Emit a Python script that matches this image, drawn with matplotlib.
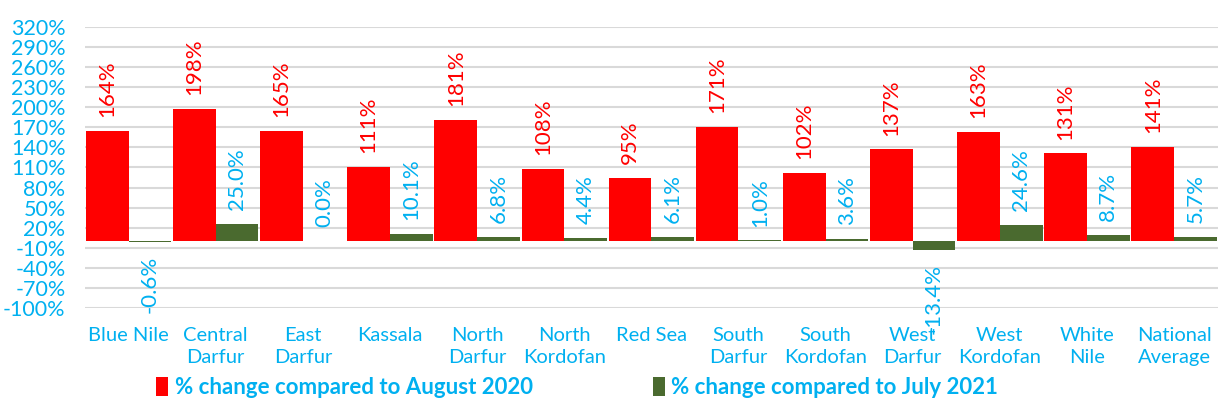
import numpy as np
import matplotlib.pyplot as plt

plt.rcParams['font.family'] = ['Lato', 'DejaVu Sans']

regions = ["Blue Nile", "Central\nDarfur", "East\nDarfur", "Kassala", "North\nDarfur",
           "North\nKordofan", "Red Sea", "South\nDarfur", "South\nKordofan", "West\nDarfur",
           "West\nKordofan", "White\nNile", "National\nAverage"]
change_aug2020 = [164, 198, 165, 111, 181, 108, 95, 171, 102, 137, 163, 131, 141]
change_jul2021 = [-0.6, 25.0, 0.0, 10.1, 6.8, 4.4, 6.1, 1.0, 3.6, -13.4, 24.6, 8.7, 5.7]
yticks = list(range(-100, 321, 30))

RED = '#FF0000'
GREEN = '#4A6A2F'
BLUE = '#00B0F0'

fig = plt.figure(figsize=(12.25, 4.12), dpi=100)
ax = fig.add_axes([0.0694, 0.2524, 0.9246, 0.6821])

x = np.arange(len(regions))
w = 0.49
b1 = ax.bar(x - w / 2, change_aug2020, w, color=RED, zorder=3,
            label='% change compared to August 2020')
b2 = ax.bar(x + w / 2, change_jul2021, w, color=GREEN, zorder=3,
            label='% change compared to July 2021')

ax.bar_label(b1, labels=[f'{v:.0f}%' for v in change_aug2020], padding=10,
             rotation=90, color=RED, fontsize=16)
ax.bar_label(b2, labels=[f'{v:.1f}%' for v in change_jul2021], padding=10,
             rotation=90, color=BLUE, fontsize=16)

ax.set_xlim(-0.5, len(regions) - 0.5)
ax.set_ylim(-100, 320)
ax.set_yticks(yticks)
ax.set_yticklabels([f'{t}%' for t in yticks], fontsize=15.5)
ax.set_xticks(x)
ax.set_xticklabels(regions, fontsize=14.5, linespacing=1.3)
ax.tick_params(axis='both', length=0, colors=BLUE)
ax.tick_params(axis='x', pad=14)
ax.tick_params(axis='y', pad=14)
ax.grid(axis='y', color='#D9D9D9', linewidth=1.5, zorder=0)
for s in ax.spines.values():
    s.set_visible(False)

leg = fig.legend(loc='lower center', bbox_to_anchor=(0.471, -0.015), ncol=2,
                 frameon=False, handlelength=0.55, handleheight=0.9,
                 handletextpad=0.3, columnspacing=5.4,
                 prop={'weight': 'bold', 'size': 16})
for t in leg.get_texts():
    t.set_color(BLUE)

fig.savefig('out.png', dpi=100)
